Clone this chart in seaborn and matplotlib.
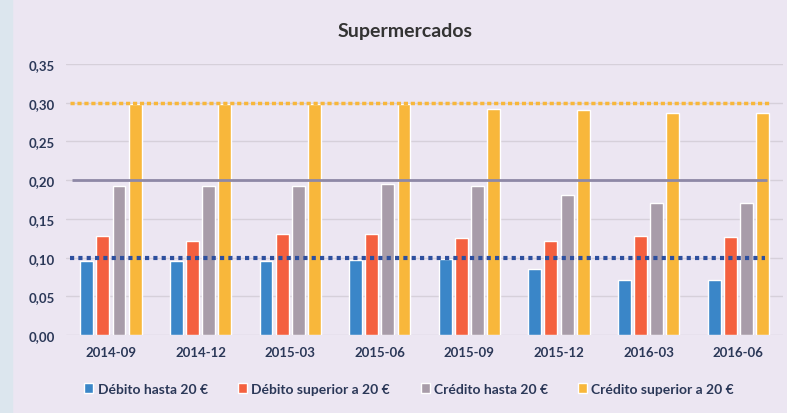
import pandas as pd
import matplotlib
matplotlib.use("Agg")
import matplotlib.pyplot as plt
import seaborn as sns
from matplotlib.ticker import FuncFormatter, MultipleLocator
from matplotlib.patches import Rectangle

# Values
periods = ["2014-09", "2014-12", "2015-03", "2015-06",
           "2015-09", "2015-12", "2016-03", "2016-06"]
debito_hasta = [0.096, 0.096, 0.096, 0.097, 0.098, 0.085, 0.071, 0.071]
debito_sup = [0.128, 0.122, 0.130, 0.130, 0.126, 0.121, 0.128, 0.127]
credito_hasta = [0.193, 0.193, 0.193, 0.195, 0.193, 0.181, 0.170, 0.170]
credito_sup = [0.298, 0.298, 0.298, 0.298, 0.292, 0.290, 0.287, 0.287]
series_names = ["Débito hasta 20 €", "Débito superior a 20 €",
                "Crédito hasta 20 €", "Crédito superior a 20 €"]
# Reference caps (debit 0.10, credit-low 0.20, credit-high 0.30)
limits = [0.10, 0.20, 0.30]

colors = ["#3a86c8", "#f4603f", "#a89ca9", "#f8b73b"]
bg = "#ece6f2"

df = pd.DataFrame({"Periodo": periods,
                   series_names[0]: debito_hasta,
                   series_names[1]: debito_sup,
                   series_names[2]: credito_hasta,
                   series_names[3]: credito_sup})
long_df = df.melt(id_vars="Periodo", var_name="Tipo", value_name="Tasa")

sns.set_style("white")
plt.rcParams["font.family"] = ["Lato", "DejaVu Sans"]

fig = plt.figure(figsize=(7.87, 4.14), dpi=100, facecolor=bg)
fig.patches.append(Rectangle((0, 0), 0.015, 1, transform=fig.transFigure,
                             color="#dce6ee", zorder=0))
ax = fig.add_axes([0.084, 0.188, 0.911, 0.655])
ax.set_facecolor(bg)

sns.barplot(data=long_df, x="Periodo", y="Tasa", hue="Tipo",
            palette=colors, width=0.72, gap=0.2, saturation=1,
            ax=ax, legend=True, zorder=3)

# horizontal grid
ax.yaxis.set_major_locator(MultipleLocator(0.05))
ax.set_ylim(0, 0.35)
ax.set_xlim(-0.5, 7.5)
ax.grid(axis="y", color="#d6d0da", linewidth=1)
ax.set_axisbelow(True)

# reference lines
ax.hlines(limits[2], -0.46, 7.35, colors="#f8b73b", linestyles=(0, (1.2, 0.8)),
          linewidth=2.5, zorder=4)
ax.hlines(limits[1], -0.43, 7.32, colors="#8e88a6", linestyles="-",
          linewidth=2, zorder=4)
ax.hlines(limits[0], -0.46, 7.3, colors="#2d4f9e", linestyles=(0, (1, 1)),
          linewidth=3, zorder=4)

for s in ax.spines.values():
    s.set_visible(False)

ax.yaxis.set_major_formatter(FuncFormatter(lambda v, p: f"{v:.2f}".replace(".", ",")))
ax.tick_params(axis="both", length=0, labelsize=9.5, labelcolor="#2b3858", pad=8)
for lbl in ax.get_xticklabels() + ax.get_yticklabels():
    lbl.set_fontweight("bold")
ax.set_xlabel("")
ax.set_ylabel("")

fig.text(0.515, 0.925, "Supermercados", ha="center", va="center",
         fontsize=14, fontweight="bold", color="#333333")

handles, labels = ax.get_legend_handles_labels()
ax.legend_.remove()
fig.legend(handles, labels, loc="center", bbox_to_anchor=(0.52, 0.058), ncol=4,
           frameon=False, handlelength=0.65, handleheight=0.65,
           handletextpad=0.3, columnspacing=2.2, labelcolor="#2b3858",
           prop={"weight": "bold", "size": 10})

plt.savefig("out.png", dpi=100, facecolor=bg)
